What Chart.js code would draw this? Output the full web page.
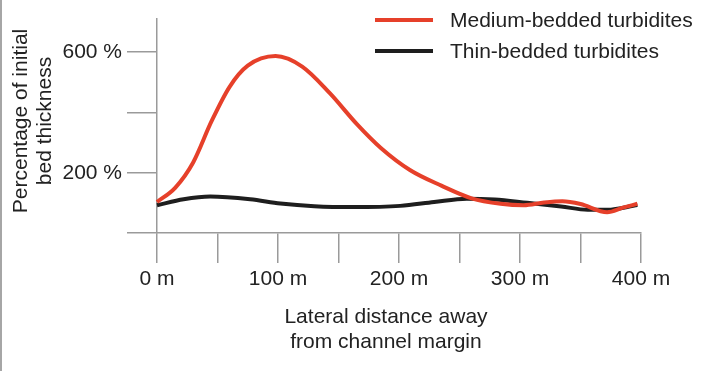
<!DOCTYPE html>
<html>
<head>
<meta charset="utf-8">
<script src="https://cdn.jsdelivr.net/npm/chart.js@4/dist/chart.umd.min.js"></script>
<style>
  html, body { margin: 0; padding: 0; background: #ffffff; }
  #wrap { position: relative; width: 726px; height: 371px; }
  #c { display: block; }
  #edge { position: absolute; left: 0; top: 0; width: 2px; height: 371px; background: #a6a6a6; }
</style>
</head>
<body>
<div id="wrap">
  <canvas id="c" width="726" height="371"></canvas>
  <div id="edge"></div>
</div>
<script>
// ---- Data ----
const seriesNames = ['Medium-bedded turbidites', 'Thin-bedded turbidites'];
const mediumDistances = [0, 15, 30, 45, 60, 75, 98, 120, 143, 165, 185, 209, 235, 260, 284, 303, 320, 335, 350, 372, 385, 397];
const mediumValues    = [103, 150, 235, 370, 485, 555, 587, 552, 463, 362, 282, 209, 157, 115, 97, 92, 101, 105, 96, 69, 84, 97];
const thinDistances   = [0, 22, 44, 77, 102, 130, 162, 201, 229, 256, 279, 306, 334, 356, 372, 397];
const thinValues      = [92, 112, 121, 112, 98, 89, 86, 90, 103, 114, 111, 100, 88, 77, 77, 93];
const xLabelledTicks  = [0, 100, 200, 300, 400];
const yLabelledTicks  = [200, 600];
const xUnit = ' m';
const yUnit = ' %';
const xTitleLines = ['Lateral distance away', 'from channel margin'];
const yTitleLines = ['Percentage of initial', 'bed thickness'];

const FONT = '"Liberation Sans", Arial, Helvetica, sans-serif';
const TEXT = '#222222';
const AXIS = '#9a9a9a';

const toPoints = (xs, ys) => xs.map((x, i) => ({ x: x, y: ys[i] }));

const titlesAndLegend = {
  id: 'titlesAndLegend',
  afterDraw(chart) {
    const ctx = chart.ctx;
    ctx.save();
    ctx.fillStyle = TEXT;
    ctx.font = '21px ' + FONT;
    ctx.textAlign = 'center';
    ctx.textBaseline = 'middle';
    // x title
    xTitleLines.forEach((t, i) => ctx.fillText(t, 386, 317 + i * 25));
    // y title (rotated)
    yTitleLines.forEach((t, i) => {
      ctx.save();
      ctx.translate(21 + i * 24, 121);
      ctx.rotate(-Math.PI / 2);
      ctx.fillText(t, 0, 0);
      ctx.restore();
    });
    // legend
    chart.data.datasets.forEach((ds, i) => {
      const y = 20 + i * 31;
      ctx.strokeStyle = ds.borderColor;
      ctx.lineWidth = 4;
      ctx.beginPath();
      ctx.moveTo(375, y);
      ctx.lineTo(433, y);
      ctx.stroke();
      ctx.textAlign = 'left';
      ctx.fillText(ds.label, 450, y + 1);
    });
    ctx.restore();
  }
};

new Chart(document.getElementById('c'), {
  type: 'line',
  data: {
    datasets: [
      {
        label: seriesNames[0],
        data: toPoints(mediumDistances, mediumValues),
        borderColor: '#e6402a',
        borderWidth: 4,
        pointRadius: 0,
        cubicInterpolationMode: 'monotone',
        fill: false,
        clip: false
      },
      {
        label: seriesNames[1],
        data: toPoints(thinDistances, thinValues),
        borderColor: '#1e1e1e',
        borderWidth: 4,
        pointRadius: 0,
        cubicInterpolationMode: 'monotone',
        fill: false,
        clip: false
      }
    ]
  },
  options: {
    responsive: false,
    animation: false,
    layout: { padding: { top: 19, right: 85, bottom: 0, left: 0 } },
    plugins: { legend: { display: false }, tooltip: { enabled: false } },
    scales: {
      x: {
        type: 'linear',
        min: 0,
        max: 400,
        afterFit(scale) { scale.height = 138; },
        ticks: {
          stepSize: 50,
          autoSkip: false,
          maxRotation: 0,
          padding: 4,
          color: TEXT,
          font: { family: FONT, size: 21 },
          callback: (v) => xLabelledTicks.includes(v) ? v + xUnit : ''
        },
        grid: { display: true, drawOnChartArea: false, drawTicks: true, tickLength: 30, color: AXIS, lineWidth: 1.5 },
        border: { display: true, color: AXIS, width: 1.5 }
      },
      y: {
        type: 'linear',
        min: 0,
        max: 710,
        afterFit(scale) { scale.width = 157; },
        afterBuildTicks(scale) { scale.ticks = scale.ticks.filter(t => t.value % 200 === 0); },
        ticks: {
          stepSize: 200,
          autoSkip: false,
          padding: 5,
          color: TEXT,
          font: { family: FONT, size: 21 },
          callback: (v) => yLabelledTicks.includes(v) ? v + yUnit : ''
        },
        grid: { display: true, drawOnChartArea: false, drawTicks: true, tickLength: 30, color: AXIS, lineWidth: 1.5 },
        border: { display: true, color: AXIS, width: 1.5 }
      }
    }
  },
  plugins: [titlesAndLegend]
});
</script>
</body>
</html>
